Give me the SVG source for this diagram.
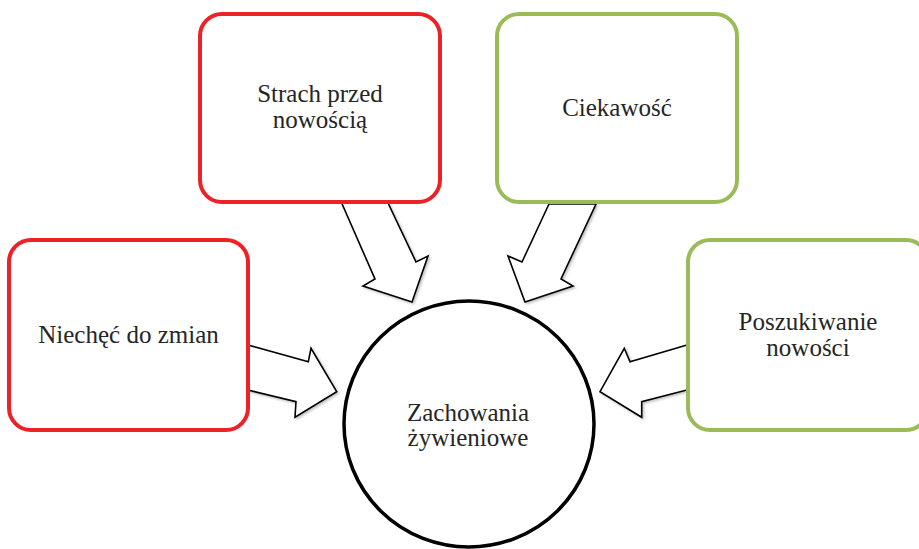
<svg xmlns="http://www.w3.org/2000/svg" width="919" height="549" viewBox="0 0 919 549">
  <style>
    .box { fill: #ffffff; stroke-width: 4; }
    .red { stroke: #EC2227; }
    .green { stroke: #9BBB59; }
    .arrow { fill: #ffffff; stroke: #000000; stroke-width: 1.6; stroke-linejoin: miter; filter: url(#sh); }
    .lbl { font-family: "Liberation Serif", "Times New Roman", serif; font-size: 25px; fill: #262626; text-anchor: middle; }
  </style>
  <defs>
    <filter id="sh" x="-20%" y="-20%" width="140%" height="140%">
      <feDropShadow dx="1.5" dy="1.5" stdDeviation="1.2" flood-color="#000000" flood-opacity="0.25"/>
    </filter>
  </defs>
  <rect width="919" height="549" fill="#ffffff"/>
  <g id="connectors">
    <polygon class="arrow" points="341.7,203 375,279 363,286 412,302 428,256 416,262 388,203"/>
    <polygon class="arrow" points="549,204 522,262 508,256 525,302 573,286 561,279 596,204"/>
    <polygon class="arrow" points="248,345 308.3,361.7 311,348.3 336.7,391.7 295,417.3 296,401.7 248,390"/>
    <polygon class="arrow" points="687,345 630,361.7 624.3,348.3 600,391.7 641.7,417.3 641.7,401.7 687,390"/>
  </g>
  <g id="strach">
    <rect class="box red" x="200" y="14" width="240" height="188" rx="22" ry="22"/>
    <text class="lbl" x="320" y="102">Strach przed</text>
    <text class="lbl" x="320" y="128">nowością</text>
  </g>
  <g id="ciekawosc">
    <rect class="box green" x="497" y="14" width="240" height="188" rx="22" ry="22"/>
    <text class="lbl" x="617" y="116">Ciekawość</text>
  </g>
  <g id="niechec">
    <rect class="box red" x="9" y="240" width="239" height="190" rx="22" ry="22"/>
    <text class="lbl" x="128.5" y="343">Niechęć do zmian</text>
  </g>
  <g id="poszukiwanie">
    <rect class="box green" x="688" y="240" width="240" height="190" rx="22" ry="22"/>
    <text class="lbl" x="808" y="330">Poszukiwanie</text>
    <text class="lbl" x="808" y="356">nowości</text>
  </g>
  <g id="zachowania">
    <ellipse cx="469" cy="424" rx="125" ry="123" fill="#ffffff" stroke="#000000" stroke-width="3.5"/>
    <text class="lbl" x="468" y="421">Zachowania</text>
    <text class="lbl" x="468" y="446">żywieniowe</text>
  </g>
</svg>
